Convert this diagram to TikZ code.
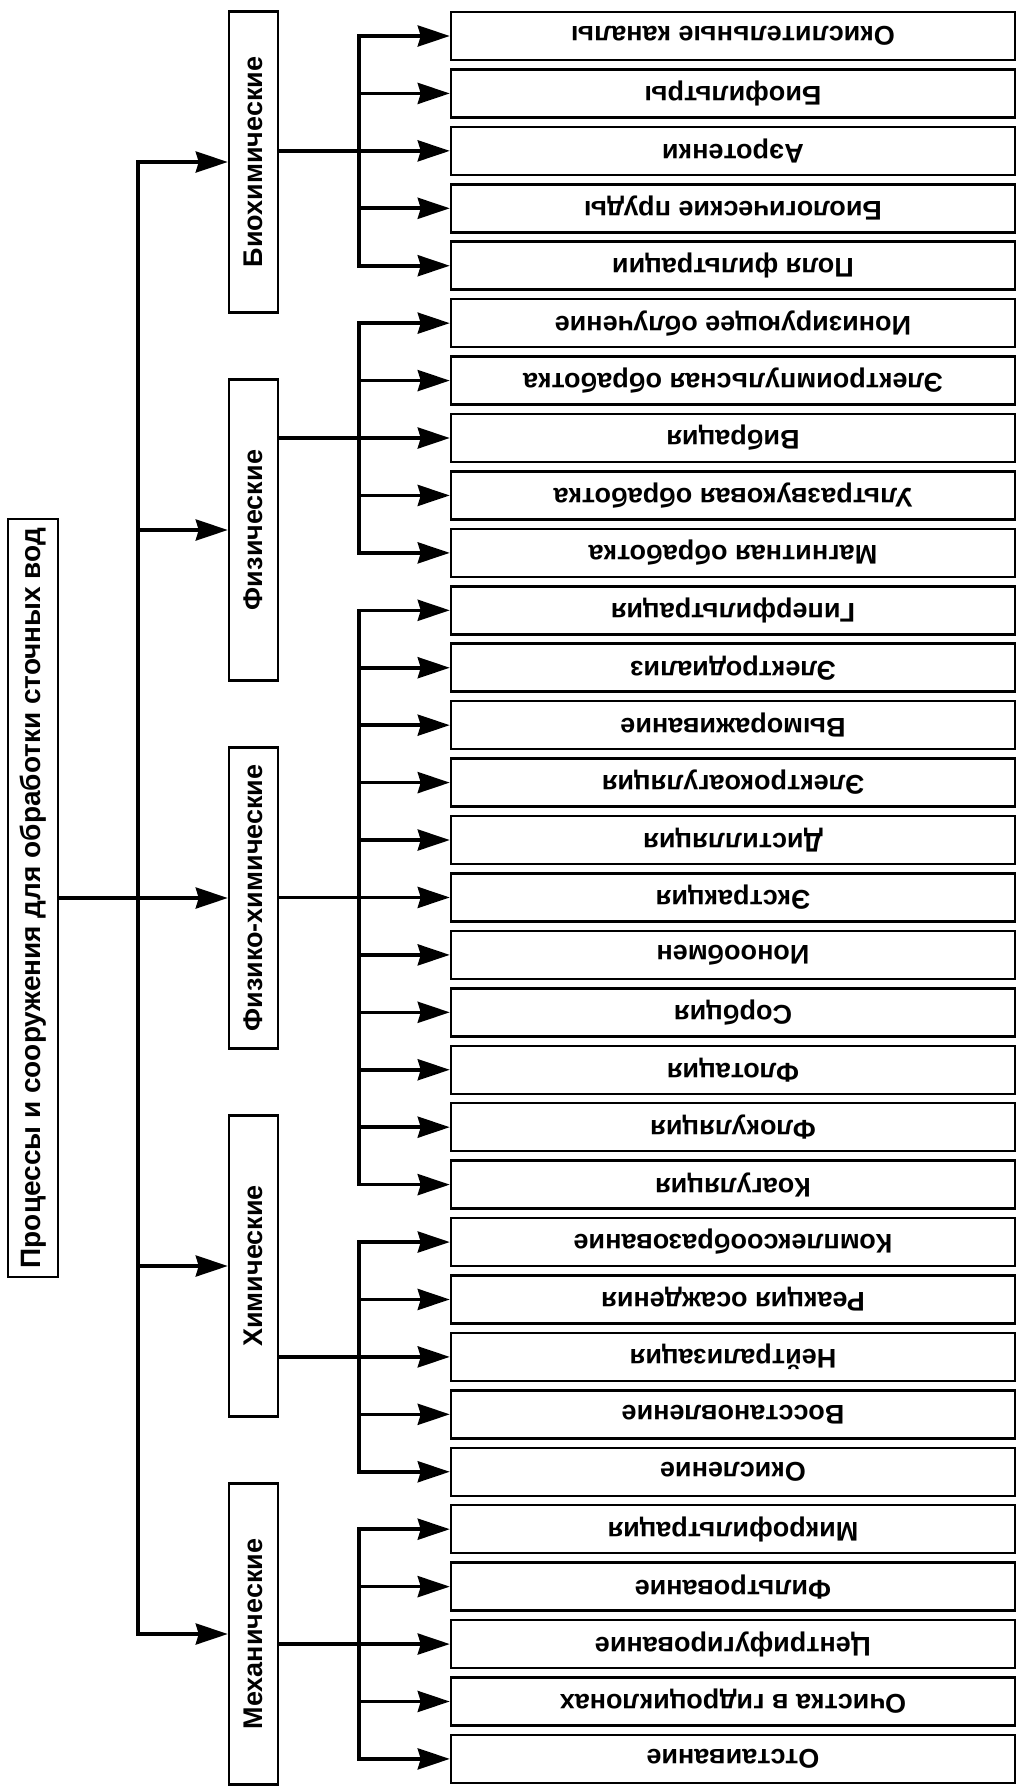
\documentclass[tikz,border=0pt]{standalone}
\usepackage{fontspec}
\usepackage{graphicx}
\setmainfont{Liberation Sans}
\usetikzlibrary{arrows.meta,calc}

\tikzset{
    box/.style={draw, line width=1.25pt, inner sep=0pt},
    leaf/.style={box, minimum width=282pt, minimum height=24pt, font=\bfseries\fontsize{13.5}{15}\selectfont},
    kind/.style={box, minimum width=24.5pt, minimum height=150.5pt, font=\bfseries\fontsize{13.5}{15}\selectfont},
    conn/.style={line width=1.8pt, line cap=rect},
    arr/.style={line width=1.8pt, -{Stealth[length=16pt,width=10.5pt,inset=1.5pt]}},
}

\begin{document}
\begin{tikzpicture}[x=0.5pt,y=-0.5pt]
    \useasboundingbox (0,0) rectangle (1022,1789);

    \coordinate (bus) at (138,0);
    \coordinate (sbus) at (359,0);

    \node[box, minimum width=25pt, minimum height=379pt, font=\bfseries\fontsize{14}{16}\selectfont] (root) at (33,898)
        {\rotatebox{90}{Процессы и сооружения для обработки сточных вод}};

    \node[kind] (c1) at (253.5,162) {\rotatebox{90}{Биохимические}};
    \node[kind] (c2) at (253.5,530) {\rotatebox{90}{Физические}};
    \node[kind] (c3) at (253.5,898) {\rotatebox{90}{Физико-химические}};
    \node[kind] (c4) at (253.5,1266) {\rotatebox{90}{Химические}};
    \node[kind] (c5) at (253.5,1634) {\rotatebox{90}{Механические}};

    \foreach \t [count=\i] in {Окислительные каналы, Биофильтры, Аэротенки,
        Биологические пруды, Поля фильтрации, Ионизирующее облучение,
        Электроимпульсная обработка, Вибрация, Ультразвуковая обработка,
        Магнитная обработка, Гиперфильтрация, Электродиализ, Вымораживание,
        Электрокоагуляция, Дистилляция, Экстракция, Ионообмен, Сорбция,
        Флотация, Флокуляция, Коагуляция, Комплексообразование,
        Реакция осаждения, Нейтрализация, Восстановление, Окисление,
        Микрофильтрация, Фильтрование, Центрифугирование,
        Очистка в гидроциклонах, Отстаивание} {
        \node[leaf] (l\i) at (733, {36+(\i-1)*57.43}) {\rotatebox{180}{\t}};
    }

    % main bus
    \draw[conn] (c1.west -| bus) -- (c5.west -| bus);
    \foreach \c in {1,2,4,5} {
        \draw[arr] (c\c.west -| bus) -- (c\c.west);
    }
    \draw[arr] (root.east) -- (c3.west);

    % groups
    \foreach \c/\a/\b/\m in {1/1/5/3, 2/6/10/8, 3/11/21/16, 4/22/26/24, 5/27/31/29} {
        \draw[conn] (l\a.west -| sbus) -- (l\b.west -| sbus);
        \draw[conn] (c\c.east |- l\m.west) -- (l\m.west -| sbus);
        \foreach \j in {\a,...,\b} {
            \draw[arr] (l\j.west -| sbus) -- (l\j.west);
        }
    }

\end{tikzpicture}
\end{document}
